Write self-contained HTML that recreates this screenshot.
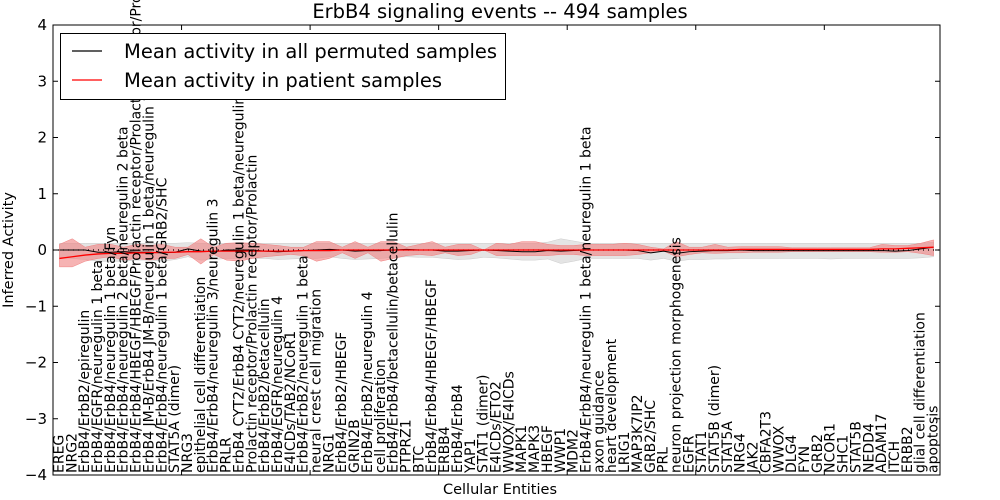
<!DOCTYPE html>
<html><head><meta charset="utf-8"><style>
html,body{margin:0;padding:0;background:#fff;}
svg{display:block;font-family:"DejaVu Sans","Liberation Sans",sans-serif;}
</style></head><body>
<svg id="chart" width="1000" height="500"></svg>
<script>
const categories=["EREG","NRG2","ErbB4/ErbB2/epiregulin","ErbB4/EGFR/neuregulin 1 beta","ErbB4/ErbB4/neuregulin 1 beta/Fyn","ErbB4/ErbB4/neuregulin 2 beta/neuregulin 2 beta","ErbB4/ErbB4/HBEGF/HBEGF/Prolactin receptor/Prolactin receptor/Prolactin","ErbB4 JM-B/ErbB4 JM-B/neuregulin 1 beta/neuregulin 1 beta","ErbB4/ErbB4/neuregulin 1 beta/GRB2/SHC","STAT5A (dimer)","NRG3","epithelial cell differentiation","ErbB4/ErbB4/neuregulin 3/neuregulin 3","PRLR","ErbB4 CYT2/ErbB4 CYT2/neuregulin 1 beta/neuregulin 1 beta","Prolactin receptor/Prolactin receptor/Prolactin","ErbB4/ErbB2/betacellulin","ErbB4/EGFR/neuregulin 4","E4ICDs/TAB2/NCoR1","ErbB4/ErbB2/neuregulin 1 beta","neural crest cell migration","NRG1","ErbB4/ErbB2/HBEGF","GRIN2B","ErbB4/ErbB2/neuregulin 4","cell proliferation","ErbB4/ErbB4/betacellulin/betacellulin","PTPRZ1","BTC","ErbB4/ErbB4/HBEGF/HBEGF","ERBB4","ErbB4/ErbB4","YAP1","STAT1 (dimer)","E4ICDs/ETO2","WWOX/E4ICDs","MAPK1","MAPK3","HBEGF","WWP1","MDM2","ErbB4/ErbB4/neuregulin 1 beta/neuregulin 1 beta","axon guidance","heart development","LRIG1","MAP3K7IP2","GRB2/SHC","PRL","neuron projection morphogenesis","EGFR","STAT1","STAT5B (dimer)","STAT5A","NRG4","JAK2","CBFA2T3","WWOX","DLG4","FYN","GRB2","NCOR1","SHC1","STAT5B","NEDD4","ADAM17","ITCH","ERBB2","glial cell differentiation","apoptosis"];
const redMean=[-0.15,-0.12,-0.09,-0.07,-0.06,-0.06,-0.05,-0.05,-0.04,-0.04,-0.03,-0.03,-0.02,-0.02,-0.02,-0.02,-0.02,-0.02,-0.02,-0.01,-0.01,-0.01,0,0,0,0,0,0,0,0,0,0,0,0,0,0,0,0,0,0,0,0,0,0,0,0,0,0,0,0,0,0,0,0.01,0.01,0.01,0.01,0.01,0.01,0.01,0.01,0.01,0.01,0.01,0.02,0.02,0.03,0.04,0.05];
const redUpper=[0.1,0.2,0.05,0.1,0.1,0.05,0.1,0.08,0.1,0.05,0.05,0.2,0.05,0.12,0.13,0.12,0.1,0.08,0.05,0.05,0.15,0.15,0.05,0.15,0.05,0.15,0.15,0.05,0.1,0.15,0.05,0.1,0.1,0.0,0.12,0.1,0.15,0.15,0.1,0.08,0.08,0.1,0.1,0.1,0.12,0.1,0.05,0.02,0.15,0.05,0.05,0.1,0.05,0.06,0.06,0.06,0.06,0.04,0.04,0.04,0.04,0.04,0.04,0.04,0.1,0.08,0.08,0.12,0.18];
const redLower=[-0.3,-0.3,-0.2,-0.15,-0.12,-0.18,-0.15,-0.18,-0.15,-0.15,-0.08,-0.25,-0.08,-0.18,-0.2,-0.15,-0.12,-0.1,-0.08,-0.1,-0.2,-0.15,-0.05,-0.15,-0.05,-0.2,-0.15,-0.1,-0.08,-0.1,-0.05,-0.1,-0.08,0.0,-0.1,-0.1,-0.1,-0.1,-0.1,-0.08,-0.08,-0.1,-0.1,-0.1,-0.1,-0.08,-0.05,-0.02,-0.12,-0.08,-0.05,-0.06,-0.05,-0.05,-0.04,-0.04,-0.04,-0.03,-0.03,-0.03,-0.03,-0.03,-0.03,-0.03,-0.04,-0.04,-0.03,-0.06,-0.1];
const grayMean=[0,0,0,-0.04,-0.04,-0.03,-0.04,-0.04,-0.05,-0.04,0.02,-0.02,-0.03,0,0,0,-0.02,-0.03,-0.02,-0.01,0,0.01,0,-0.02,-0.01,-0.01,0,0.01,0,0,-0.02,-0.02,-0.01,0,-0.01,-0.02,-0.03,-0.03,-0.01,-0.02,-0.01,0,0,0,0,-0.01,-0.05,-0.02,-0.06,-0.03,-0.02,-0.01,-0.01,0,-0.01,-0.01,-0.01,-0.01,-0.01,-0.01,-0.01,-0.01,-0.01,-0.01,-0.01,-0.02,-0.01,0.02,0.05];
const grayUpper=[0.12,0.12,0.12,0.12,0.12,0.12,0.12,0.12,0.12,0.12,0.13,0.12,0.12,0.12,0.12,0.12,0.12,0.12,0.12,0.12,0.12,0.12,0.12,0.12,0.12,0.12,0.12,0.12,0.12,0.12,0.12,0.12,0.12,0.12,0.12,0.12,0.12,0.12,0.14,0.2,0.16,0.12,0.12,0.12,0.12,0.12,0.12,0.12,0.12,0.12,0.12,0.12,0.12,0.12,0.12,0.12,0.12,0.12,0.12,0.12,0.12,0.12,0.12,0.12,0.12,0.12,0.12,0.12,0.14];
const grayLower=[-0.13,-0.15,-0.17,-0.2,-0.2,-0.2,-0.18,-0.18,-0.2,-0.17,-0.12,-0.18,-0.17,-0.15,-0.15,-0.15,-0.15,-0.17,-0.16,-0.15,-0.15,-0.12,-0.15,-0.17,-0.16,-0.15,-0.13,-0.12,-0.13,-0.13,-0.15,-0.17,-0.16,-0.13,-0.14,-0.16,-0.18,-0.18,-0.16,-0.24,-0.2,-0.15,-0.15,-0.15,-0.15,-0.15,-0.18,-0.15,-0.2,-0.17,-0.17,-0.16,-0.16,-0.15,-0.15,-0.15,-0.15,-0.15,-0.15,-0.15,-0.16,-0.15,-0.15,-0.15,-0.15,-0.15,-0.15,-0.14,-0.12];
const yTicks=[-4,-3,-2,-1,0,1,2,3,4];
const xTicks=[10,20,30,40,50,60];

const NS="http://www.w3.org/2000/svg";
const svg=document.getElementById('chart');
const L=53,R=940,T=25,B=475,XMAX=69;
const xs=v=>L+(v/XMAX)*(R-L);
const ys=v=>T+(4-v)/8*(B-T);
function mk(tag,attrs,parent){const e=document.createElementNS(NS,tag);for(const k in attrs)e.setAttribute(k,attrs[k]);(parent||svg).appendChild(e);return e;}
function bandPath(up,lo){let d='';up.forEach((v,i)=>{d+=(i?'L':'M')+xs(i+0.5)+','+ys(v);});for(let i=lo.length-1;i>=0;i--)d+='L'+xs(i+0.5)+','+ys(lo[i]);return d+'Z';}
function linePath(a){return a.map((v,i)=>(i?'L':'M')+xs(i+0.5)+','+ys(v)).join('');}

const gb=mk('path',{d:bandPath(grayUpper,grayLower),fill:'#d8d8d8','fill-opacity':'0.7',stroke:'#cccccc','stroke-width':'0.5'});


const rb=mk('path',{d:bandPath(redUpper,redLower),fill:'#f08080','fill-opacity':'0.6',stroke:'#f08080','stroke-width':'0.5'});


const zl=mk('line',{x1:L,x2:R,y1:ys(0),y2:ys(0),stroke:'#000','stroke-width':'1.2','stroke-dasharray':'1,4'});


const gl=mk('path',{d:linePath(grayMean),fill:'none',stroke:'#000','stroke-width':'1'});


const rl=mk('path',{d:linePath(redMean),fill:'none',stroke:'#ff0000','stroke-width':'1.3'});



categories.forEach((c,i)=>{
  const t=mk('text',{x:0,y:0,transform:`translate(${xs(i+0.5)+4},${B-2}) rotate(-90)`,'font-size':'14',fill:'#000'});
  t.textContent=c;
  
  
});
const fr=mk('rect',{x:L,y:T,width:R-L,height:B-T,fill:'none',stroke:'#000','stroke-width':'1'});


yTicks.forEach(v=>{
  mk('line',{x1:L,x2:L+5,y1:ys(v),y2:ys(v),stroke:'#000'});
  mk('line',{x1:R,x2:R-5,y1:ys(v),y2:ys(v),stroke:'#000'});
  const t=mk('text',{x:L-6,y:ys(v)+5,'text-anchor':'end','font-size':'15'});
  t.textContent=v<0?'\u2212'+(-v):String(v);
  
  
});
xTicks.forEach(v=>{
  mk('line',{x1:xs(v),x2:xs(v),y1:T,y2:T+5,stroke:'#000'});
  mk('line',{x1:xs(v),x2:xs(v),y1:B,y2:B-5,stroke:'#000'});
});
</script>
<svg width="1000" height="500" style="position:absolute;left:0;top:0">
<text x="500" y="18" text-anchor="middle" font-size="19.5" font-family="DejaVu Sans,sans-serif">ErbB4 signaling events -- 494 samples</text>
<text x="500" y="494" text-anchor="middle" font-size="14.5" font-family="DejaVu Sans,sans-serif">Cellular Entities</text>
<text transform="translate(13,250) rotate(-90)" text-anchor="middle" font-size="14.5" font-family="DejaVu Sans,sans-serif">Inferred Activity</text>
<g>
<rect x="60.5" y="33.5" width="445" height="66" fill="#fff" stroke="#000"/>
<line x1="72" x2="102" y1="51" y2="51" stroke="#000" stroke-width="1.2"/>
<text x="124" y="58" font-size="19.5" font-family="DejaVu Sans,sans-serif">Mean activity in all permuted samples</text>
<line x1="72" x2="102" y1="80" y2="80" stroke="#ff0000" stroke-width="1.2"/>
<text x="124" y="87" font-size="19.5" font-family="DejaVu Sans,sans-serif">Mean activity in patient samples</text>
</g>
</svg>
</body></html>
